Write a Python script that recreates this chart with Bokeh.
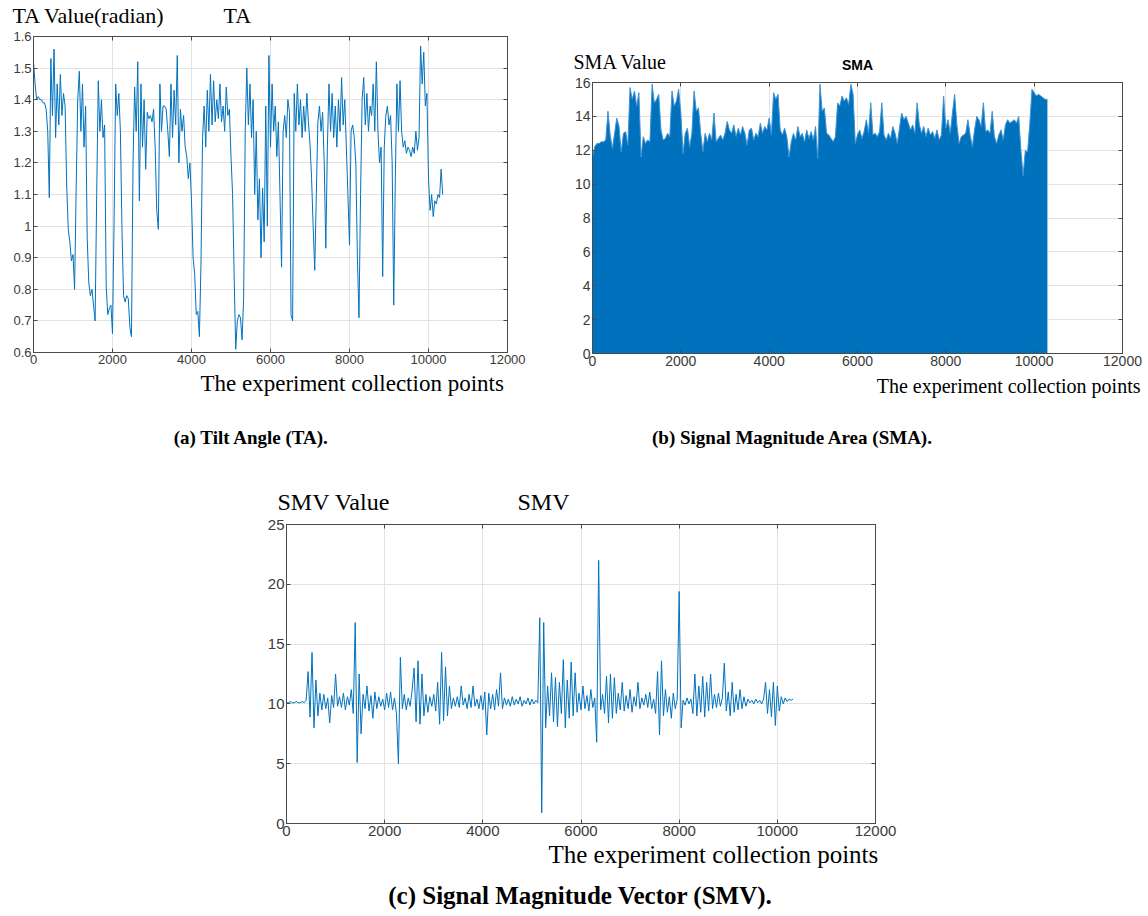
from bokeh.plotting import figure
from bokeh.models import Range1d, FixedTicker, LinearAxis, Label, CustomJSTickFormatter, Spacer
from bokeh.layouts import column, row
from bokeh.embed import file_html
from bokeh.resources import INLINE

# ---------------- data ----------------
x_ticks = [0, 2000, 4000, 6000, 8000, 10000, 12000]

ta_step = 40
ta_values = [
    1.52, 1.45, 1.40, 1.41, 1.40, 1.40, 1.39, 1.39, 1.37, 1.30,
    1.09, 1.53, 1.35, 1.56, 1.28, 1.45, 1.32, 1.48, 1.35, 1.42,
    1.38, 1.13, 0.99, 0.95, 0.89, 0.91, 0.80, 1.12, 1.40, 1.49,
    1.30, 1.45, 1.25, 1.38, 0.96, 0.82, 0.78, 0.80, 0.75, 0.70,
    1.10, 1.46, 1.30, 1.40, 1.28, 1.32, 0.81, 0.72, 0.74, 0.75,
    0.66, 1.02, 1.45, 1.35, 1.42, 1.30, 0.99, 0.78, 0.76, 0.78,
    0.77, 0.68, 0.65, 1.20, 1.44, 1.30, 1.52, 1.08, 1.45, 1.25,
    1.40, 1.18, 1.36, 1.34, 1.35, 1.33, 1.37, 1.25, 1.05, 0.99,
    1.45, 1.30, 1.38, 1.38, 1.37, 1.30, 1.22, 1.45, 1.28, 1.43,
    1.32, 1.54, 1.20, 1.37, 1.30, 1.35, 1.25, 1.22, 1.15, 1.20,
    1.08, 0.90, 0.85, 0.72, 0.73, 0.65, 0.88, 1.28, 1.38, 1.25,
    1.43, 1.30, 1.48, 1.32, 1.46, 1.33, 1.40, 1.34, 1.45, 1.33,
    1.38, 1.30, 1.44, 1.35, 1.37, 1.22, 1.10, 0.84, 0.61, 0.70,
    0.72, 0.71, 0.64, 0.77, 1.30, 1.50, 1.32, 1.45, 1.28, 1.40,
    1.10, 1.30, 1.02, 1.15, 0.90, 1.12, 0.95, 1.38, 1.00, 1.54,
    1.25, 1.45, 1.30, 1.38, 1.22, 1.33, 1.10, 0.87, 1.30, 1.35,
    1.28, 1.40, 1.36, 0.72, 0.70, 1.42, 1.30, 1.45, 1.32, 1.40,
    1.28, 1.38, 1.30, 1.42, 1.33, 1.26, 1.15, 1.00, 0.86, 1.10,
    1.33, 1.38, 1.30, 1.36, 1.20, 0.93, 1.25, 1.45, 1.30, 1.42,
    1.28, 1.38, 1.25, 1.40, 1.30, 1.47, 1.32, 1.40, 1.25, 1.10,
    0.94, 1.30, 1.32, 1.28, 1.20, 0.90, 0.71, 1.10, 1.40, 1.47,
    1.32, 1.42, 1.30, 1.38, 1.35, 1.45, 1.30, 1.52, 1.30, 1.20,
    1.25, 0.84, 1.25, 1.35, 1.38, 1.32, 1.35, 1.20, 0.75, 1.15,
    1.45, 1.30, 1.46, 1.30, 1.25, 1.27, 1.23, 1.25, 1.24, 1.22,
    1.25, 1.23, 1.30, 1.24, 1.28, 1.57, 1.45, 1.55, 1.38, 1.42,
    1.15, 1.05, 1.10, 1.03, 1.08, 1.07, 1.10, 1.09, 1.18, 1.10,
]
ta_y_ticks = [0.6, 0.7, 0.8, 0.9, 1.0, 1.1, 1.2, 1.3, 1.4, 1.5, 1.6]

sma_step = 50
sma_values = [
    11.6, 12.2, 12.4, 12.4, 12.5, 12.5, 12.6, 14.3, 12.9, 12.1,
    13.0, 13.9, 13.4, 11.9, 13.0, 13.1, 12.3, 15.7, 15.0, 15.5,
    14.6, 15.4, 11.6, 12.8, 12.4, 12.6, 12.5, 15.9, 14.8, 15.0,
    15.3, 13.2, 12.6, 12.7, 13.0, 12.8, 15.5, 14.6, 14.9, 15.6,
    14.2, 11.8, 13.0, 13.3, 12.2, 13.0, 15.5, 14.3, 14.5, 13.0,
    11.9, 13.0, 12.5, 13.0, 12.6, 14.2, 12.5, 12.7, 12.9, 12.6,
    13.0, 13.7, 13.2, 13.0, 13.5, 12.8, 13.3, 12.9, 13.4, 13.0,
    12.3, 13.2, 13.3, 12.6, 13.0, 12.8, 13.6, 13.0, 13.4, 13.2,
    13.9, 12.9, 15.4, 15.0, 15.3, 13.2, 12.9, 13.3, 12.8, 11.6,
    12.5, 13.0, 12.6, 13.4, 12.8, 13.0, 12.5, 13.2, 12.7, 13.1,
    12.6, 13.4, 11.5, 15.9, 14.3, 14.5, 13.0, 12.9, 12.7, 12.5,
    12.8, 14.8, 14.6, 15.2, 14.9, 15.1, 14.7, 15.9, 15.3, 12.4,
    12.9, 13.2, 12.7, 13.1, 13.8, 13.0, 14.8, 12.9, 13.0, 12.8,
    13.1, 14.8, 12.9, 12.6, 13.0, 12.7, 13.4, 13.0, 12.4, 13.3,
    14.2, 13.8, 14.0, 13.6, 13.2, 13.5, 13.0, 14.8, 13.5, 13.0,
    13.4, 12.8, 13.3, 12.9, 13.1, 12.7, 13.2, 12.6, 12.9, 15.2,
    13.3, 13.8, 13.0, 14.2, 15.3, 13.5, 12.4, 12.8, 12.9, 13.0,
    13.8, 12.9, 12.2, 13.2, 14.0, 13.8, 13.4, 14.8, 13.1, 13.2,
    13.0, 14.3, 12.8, 12.4, 12.9, 13.2, 12.6, 13.5, 13.8, 13.6,
    13.7, 13.8, 13.6, 14.0, 12.0, 10.5, 12.0, 11.9, 13.5, 15.6,
    15.4, 15.2, 15.3, 15.2, 15.1, 15.0, 15.0,
]
sma_y_ticks = [0, 2, 4, 6, 8, 10, 12, 14, 16]

smv_step = 40
smv_values = [
    10.1, 10.1, 10.2, 10.1, 10.1, 10.2, 10.1, 10.1, 10.2, 10.1,
    10.3, 12.7, 8.9, 14.3, 8.0, 12.0, 9.0, 10.9, 9.5, 10.8,
    9.6, 10.5, 8.4, 10.7, 9.7, 12.5, 9.8, 10.6, 9.7, 10.9,
    9.5, 10.6, 9.9, 11.2, 9.2, 16.8, 5.1, 12.5, 7.5, 10.8,
    9.6, 11.5, 9.4, 10.7, 8.8, 11.0, 9.6, 10.6, 9.8, 10.4,
    9.5, 10.9, 9.7, 11.0, 9.5, 10.5, 9.2, 5.0, 13.9, 9.6,
    10.8, 9.5, 10.5, 9.8, 11.2, 13.0, 8.5, 13.6, 8.3, 12.5,
    9.0, 10.8, 9.3, 10.6, 9.8, 10.8, 9.4, 11.8, 8.3, 14.3,
    8.6, 13.1, 9.0, 11.5, 9.6, 10.5, 9.8, 10.6, 9.7, 11.5,
    9.9, 10.5, 9.6, 10.8, 9.7, 11.5, 9.8, 10.4, 9.6, 10.7,
    9.5, 11.0, 7.4, 10.9, 9.6, 10.8, 9.5, 11.2, 9.8, 12.6,
    9.6, 10.5, 9.9, 10.4, 9.8, 10.6, 9.9, 10.4, 10.0, 10.6,
    9.8, 10.3, 10.0, 10.5, 9.9, 10.4, 10.0, 10.3, 10.1, 17.2,
    0.9, 16.8, 8.0, 11.5, 9.0, 12.6, 8.5, 12.2, 8.1, 11.8,
    9.2, 13.7, 8.0, 12.0, 8.8, 13.5, 9.0, 12.6, 9.3, 10.9,
    9.5, 11.5, 9.6, 10.7, 9.4, 11.2, 9.7, 10.5, 6.8, 22.0,
    9.5, 10.8, 9.2, 12.3, 8.4, 12.5, 8.8, 12.2, 9.2, 10.9,
    9.5, 11.8, 9.4, 10.7, 9.6, 11.2, 9.3, 10.6, 9.8, 11.8,
    9.6, 10.5, 9.9, 10.8, 9.7, 11.0, 9.6, 10.4, 9.2, 12.7,
    7.4, 13.6, 9.0, 11.2, 9.3, 10.6, 8.8, 10.9, 9.6, 10.4,
    19.4, 8.0, 10.3, 9.9, 10.5, 10.0, 10.4, 9.2, 12.5, 9.0,
    11.5, 9.3, 12.3, 8.9, 11.8, 9.4, 12.5, 9.6, 10.8, 9.7,
    10.9, 9.8, 10.5, 13.4, 9.4, 11.0, 9.0, 11.8, 9.3, 10.8,
    9.5, 11.2, 9.6, 10.6, 9.8, 10.4, 10.1, 10.3, 10.0, 10.4,
    10.1, 10.3, 10.0, 10.4, 11.8, 9.2, 11.2, 8.9, 11.8, 8.2,
    11.5, 9.4, 10.6, 10.0, 10.5, 10.2, 10.4, 10.3, 10.4,
]
smv_y_ticks = [0, 5, 10, 15, 20, 25]

ta_x = [i * ta_step for i in range(len(ta_values))]
sma_x = [i * sma_step for i in range(len(sma_values))]
smv_x = [i * smv_step for i in range(len(smv_values))]

# ---------------- styling helpers ----------------
BLUE = "#0072BD"
FRAME = "#4a4a4a"
GRID = "#e2e2e2"
TICKTXT = "#3a3a3a"
SERIF = "Liberation Serif"
SANS = "Liberation Sans"


def no_align(p):
    try:
        p.frame_align = False
    except Exception:
        pass


def make_fig(width, height, bl, br, bt, bb, yr, yticks, tick_size, yfmt=None):
    p = figure(width=width, height=height, x_range=Range1d(0, 12000), y_range=Range1d(*yr),
               output_backend="svg", toolbar_location=None, title=None,
               min_border_left=bl, min_border_right=br, min_border_top=bt, min_border_bottom=bb)
    no_align(p)
    p.background_fill_color = "white"
    p.border_fill_color = "white"
    p.outline_line_color = FRAME
    p.outline_line_width = 1
    p.xaxis.ticker = FixedTicker(ticks=x_ticks)
    p.yaxis.ticker = FixedTicker(ticks=yticks)
    if yfmt is not None:
        p.yaxis.formatter = yfmt
    for ax in (p.xaxis[0], p.yaxis[0]):
        ax.major_tick_in = 4
        ax.major_tick_out = 0
        ax.minor_tick_line_color = None
        ax.axis_line_color = FRAME
        ax.major_tick_line_color = FRAME
        ax.major_label_text_font = SANS
        ax.major_label_text_font_size = f"{tick_size}px"
        ax.major_label_text_color = TICKTXT
        ax.major_label_standoff = 2
    blank = CustomJSTickFormatter(code="return ''")
    for side, tk in (("right", yticks), ("above", x_ticks)):
        ax = LinearAxis(ticker=FixedTicker(ticks=tk), formatter=blank, major_tick_in=4,
                        major_tick_out=0, minor_tick_line_color=None, axis_line_color=FRAME,
                        major_tick_line_color=FRAME, major_label_standoff=0,
                        major_label_text_font_size="1px")
        p.add_layout(ax, side)
    p.xgrid.ticker = FixedTicker(ticks=x_ticks)
    p.ygrid.ticker = FixedTicker(ticks=yticks)
    p.xgrid.grid_line_color = GRID
    p.ygrid.grid_line_color = GRID
    return p


def text_fig(width, height):
    t = figure(width=width, height=height, x_range=Range1d(0, width), y_range=Range1d(height, 0),
               output_backend="svg", toolbar_location=None, title=None, min_border=0,
               x_axis_type=None, y_axis_type=None)
    no_align(t)
    t.outline_line_color = None
    t.background_fill_color = "white"
    t.border_fill_color = "white"
    t.grid.visible = False
    return t


def add_text(t, x, baseline, text, size, font=SERIF, style="normal", align="left"):
    # place by the vertical middle of the text box, derived from the wanted baseline
    y = baseline - 0.34 * size
    t.add_layout(Label(x=x, y=y, text=text, text_font=font, text_font_size=f"{size}px",
                       text_font_style=style, text_align=align, text_baseline="middle",
                       text_color="black"))


# ---------------- panel (a) TA ----------------
ta_fmt = CustomJSTickFormatter(code="return String(Math.round(tick*10)/10)")
ha = text_fig(565, 28)
add_text(ha, 12, 22.5, "TA Value(radian)", 22)
add_text(ha, 223, 22.5, "TA", 22)
fa = make_fig(565, 342, 33, 58, 8, 18, (0.6, 1.6), ta_y_ticks, 13, ta_fmt)
fa.line(ta_x, ta_values, line_color=BLUE, line_width=1)
ta_foot = text_fig(565, 90)
add_text(ta_foot, 200, 21, "The experiment collection points", 23)
add_text(ta_foot, 251, 73, "(a) Tilt Angle (TA).", 19, style="bold", align="center")
col_a = column(ha, fa, ta_foot)

# ---------------- panel (b) SMA ----------------
hb = text_fig(581, 73)
add_text(hb, 8, 68, "SMA Value", 20)
add_text(hb, 292, 69.5, "SMA", 14, font=SANS, style="bold", align="center")
fb = make_fig(581, 297, 27, 24, 9, 17, (0, 16), sma_y_ticks, 14)
fb.varea(x=sma_x, y1=[0] * len(sma_values), y2=sma_values, fill_color=BLUE)
fb.line(sma_x, sma_values, line_color="#3f93d3", line_width=1)
sma_foot = text_fig(581, 90)
add_text(sma_foot, 575, 22, "The experiment collection points", 20, align="right")
add_text(sma_foot, 227, 73, "(b) Signal Magnitude Area (SMA).", 19, style="bold", align="center")
col_b = column(hb, fb, sma_foot)

# ---------------- panel (c) SMV ----------------
hc = text_fig(650, 55)
add_text(hc, 23, 49.5, "SMV Value", 24)
add_text(hc, 263, 49.5, "SMV", 24)
fc = make_fig(650, 326, 32, 29, 9, 18, (0, 25), smv_y_ticks, 15)
fc.line(smv_x, smv_values, line_color=BLUE, line_width=1)
smv_foot = text_fig(650, 69)
add_text(smv_foot, 294, 21, "The experiment collection points", 25)
add_text(smv_foot, 326, 62, "(c) Signal Magnitude Vector (SMV).", 25, style="bold", align="center")
col_c = column(hc, fc, smv_foot)

layout = column(row(col_a, col_b), row(Spacer(width=254, height=450), col_c))
open("out.html", "w").write(file_html(layout, INLINE))
